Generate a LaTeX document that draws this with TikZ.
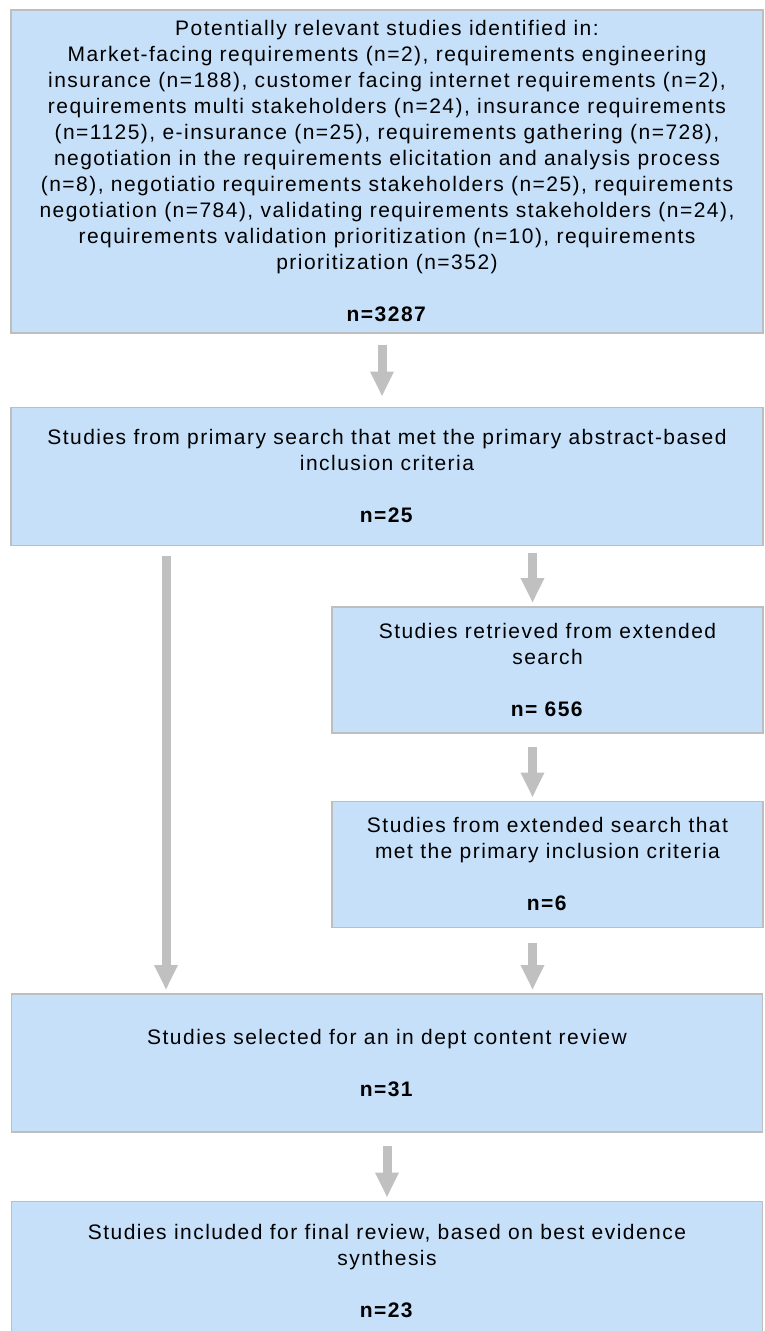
\documentclass[tikz,border=0pt]{standalone}
\usepackage{fontspec}
\setmainfont{Liberation Sans}[LetterSpace=7]
\usepackage{tikz}
\usetikzlibrary{arrows.meta,positioning}
\definecolor{boxblue}{RGB}{198,224,249}
\definecolor{boxline}{RGB}{190,190,190}
\definecolor{arrowgray}{RGB}{192,192,192}

\begin{document}
\begin{tikzpicture}[x=1pt,y=-1pt]
\tikzstyle{stage}=[rectangle,draw=boxline,line width=1.5pt,fill=boxblue,align=center,inner sep=0pt,font=\fontsize{21}{26}\selectfont]
\tikzstyle{flow}=[draw=arrowgray,line width=9pt,-{Triangle[length=25pt,width=22pt]}]
\useasboundingbox (0,0) rectangle (765,1331);
\node[stage,minimum width=752pt,minimum height=323pt,anchor=north] (found) at (387,9)
{Potentially relevant studies identified in:\\
Market-facing requirements (n=2), requirements engineering\\
insurance (n=188), customer facing internet requirements (n=2),\\
requirements multi stakeholders (n=24), insurance requirements\\
(n=1125), e-insurance (n=25), requirements gathering (n=728),\\
negotiation in the requirements elicitation and analysis process\\
(n=8), negotiatio requirements stakeholders (n=25), requirements\\
negotiation (n=784), validating requirements stakeholders (n=24),\\
requirements validation prioritization (n=10), requirements\\
prioritization (n=352)\\[26pt]
\textbf{n=3287}};
\node[stage,minimum width=752pt,minimum height=138pt,below=73pt of found] (primary)
{Studies from primary search that met the primary abstract-based\\
inclusion criteria\\[26pt]
\textbf{n=25}};
\node[stage,minimum width=431pt,minimum height=126pt,below=60pt of primary.south east,anchor=north east] (extended)
{Studies retrieved from extended\\
search\\[26pt]
\textbf{n=\ 656}};
\node[stage,minimum width=431pt,minimum height=126pt,below=67pt of extended] (extincl)
{Studies from extended search that\\
met the primary inclusion criteria\\[26pt]
\textbf{n=6}};
\node[stage,minimum width=751pt,minimum height=138pt,anchor=north] (depth) at (387,993)
{Studies selected for an in dept content review\\[26pt]
\textbf{n=31}};
\node[stage,minimum width=751pt,minimum height=140pt,below=68pt of depth] (final)
{Studies included for final review, based on best evidence\\
synthesis\\[26pt]
\textbf{n=23}};
\draw[flow] ([xshift=-5pt,yshift=-11pt]found.south) -- ([xshift=-5pt,yshift=10pt]primary.north);
\draw[flow] ([xshift=-15pt,yshift=53pt]extended.north) -- ([xshift=-15pt,yshift=3pt]extended.north);
\draw[flow] ([xshift=-221pt,yshift=-10pt]primary.south) -- ([xshift=-221pt,yshift=3pt]depth.north);
\draw[flow] ([xshift=-15pt,yshift=-13pt]extended.south) -- ([xshift=-15pt,yshift=3pt]extincl.north);
\draw[flow] ([xshift=-15pt,yshift=-15pt]extincl.south) -- ([xshift=-15pt,yshift=3pt]extincl.south |- depth.north);
\draw[flow] ([yshift=-13pt]depth.south) -- ([yshift=3pt]final.north);
\end{tikzpicture}
\end{document}
